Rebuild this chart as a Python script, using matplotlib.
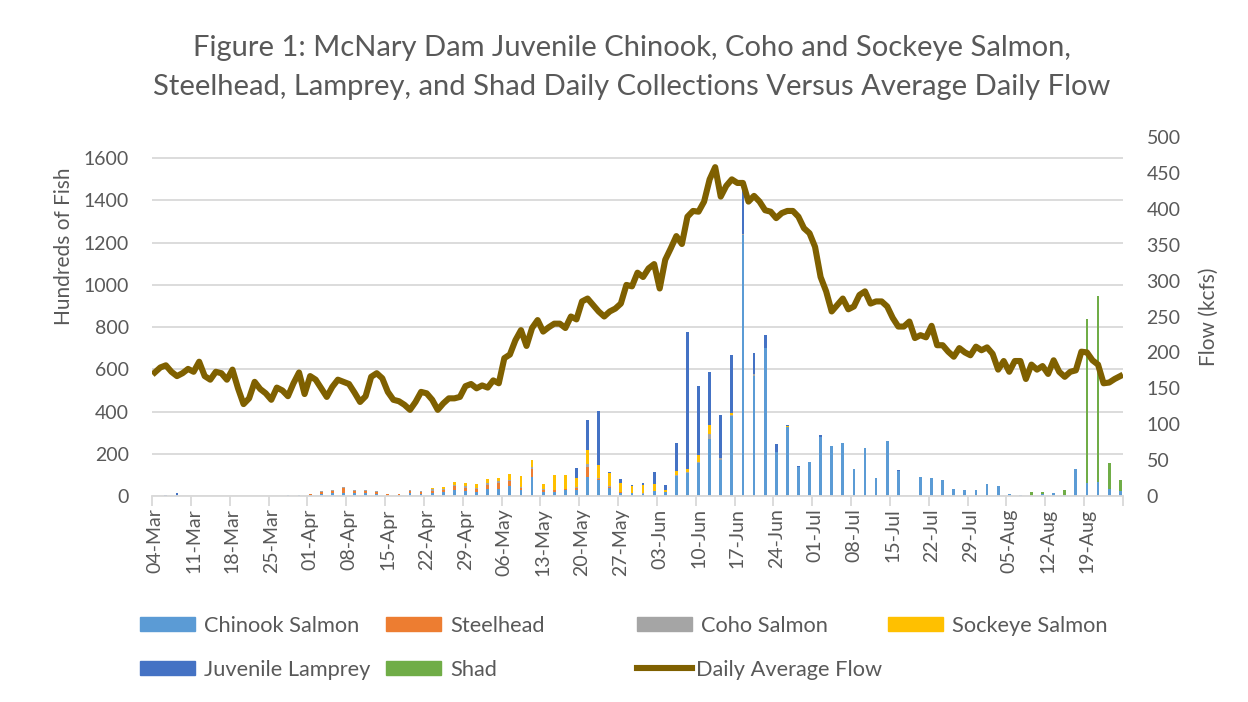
import numpy as np
import pandas as pd
import matplotlib
matplotlib.use('Agg')
import matplotlib.pyplot as plt
import matplotlib.patches as mpatches
from matplotlib.lines import Line2D

plt.rcParams['font.family'] = ['Lato', 'DejaVu Sans']

# Days 04-Mar .. 25-Aug (175 days); fish counted every other day
datas = pd.date_range('2019-03-04', periods=175, freq='D')
rotulos = [d.strftime('%d-%b') for d in datas]

# Daily average flow (kcfs)
vazao = [172, 179, 182, 173, 167, 171, 177, 173, 187, 167,
         162, 173, 171, 162, 176, 150, 128, 136, 159, 149,
         143, 134, 151, 147, 139, 157, 172, 142, 167, 162,
         150, 138, 152, 162, 159, 156, 144, 131, 139, 166,
         171, 164, 145, 134, 132, 127, 120, 131, 145, 143,
         134, 120, 129, 136, 136, 138, 153, 156, 150, 154,
         151, 161, 157, 192, 197, 217, 231, 209, 234, 245,
         229, 235, 240, 240, 234, 250, 246, 271, 275, 266,
         257, 250, 257, 261, 268, 294, 292, 311, 305, 317,
         323, 289, 329, 345, 362, 351, 389, 397, 396, 410,
         441, 458, 417, 432, 441, 436, 436, 410, 418, 410,
         398, 396, 387, 394, 397, 397, 389, 373, 366, 347,
         305, 285, 257, 266, 275, 260, 264, 280, 285, 268,
         271, 271, 264, 248, 236, 236, 243, 220, 224, 221,
         237, 210, 210, 201, 194, 206, 200, 196, 208, 203,
         207, 198, 176, 188, 173, 188, 188, 163, 183, 176,
         181, 170, 189, 173, 166, 173, 175, 201, 200, 189,
         183, 157, 158, 163, 167]

# Collections (hundreds of fish), every other day starting 04-Mar
chinook = [0, 1, 5, 1, 1, 1, 0, 0, 0, 0,
           0, 1, 3, 3, 4, 8, 12, 15, 15, 14,
           10, 2, 6, 12, 10, 14, 18, 30, 25, 20,
           35, 33, 45, 30, 90, 20, 20, 28, 28, 90,
           75, 40, 15, 12, 10, 22, 17, 95, 110, 155,
           270, 170, 380, 1235, 570, 700, 208, 325, 135, 163,
           278, 236, 249, 130, 225, 86, 262, 120, 0, 90,
           86, 75, 35, 27, 29, 59, 46, 8, 6, 2,
           8, 14, 5, 130, 60, 68, 32, 25]
steelhead = [0] * 10 + \
            [0, 0, 0, 0, 6, 12, 14, 22, 10, 10,
             10, 6, 4, 12, 10, 12, 10, 15, 15, 12,
             18, 30, 28, 8, 40, 8, 8, 5, 10, 45,
             5, 3, 2, 0, 0, 0, 0, 0, 0, 0] + [0] * 38
coho = [0, 0, 0, 0, 1, 0, 0, 0, 0, 0,
        0, 0, 0, 0, 0, 2, 4, 5, 5, 4,
        2, 0, 0, 4, 4, 6, 6, 8, 5, 5,
        8, 6, 5, 4, 5, 4, 2, 2, 5, 18,
        5, 2, 3, 2, 4, 4, 0, 5, 5, 8,
        25, 8, 5, 8, 10, 0, 0, 0, 0, 0] + [0] * 28
sockeye = [0] * 20 + \
          [0, 0, 0, 0, 0, 4, 7, 12, 15, 20,
           20, 17, 28, 52, 36, 24, 68, 65, 40, 65,
           60, 62, 40, 35, 38, 33, 12, 17, 13, 30,
           40, 3, 8, 0, 0, 0, 0, 8, 0, 0] + [0] * 28
lampreia = [0, 2, 8, 1, 0, 0, 0, 0, 0, 0,
            0, 1, 2, 2, 0, 0, 0, 0, 0, 0,
            0, 0, 0, 0, 0, 0, 0, 0, 0, 0,
            0, 0, 0, 0, 0, 0, 2, 0, 50, 140,
            257, 7, 22, 5, 8, 57, 25, 133, 647, 328,
            250, 204, 277, 227, 95, 63, 39, 5, 5, 0,
            9, 0, 0, 0, 0, 0, 0, 5, 0, 0] + [0] * 18
shad = [0] * 79 + [17, 11, 0, 25, 0, 780, 880, 122, 53]

series = [('Chinook Salmon', chinook, '#5B9BD5'),
          ('Steelhead', steelhead, '#ED7D31'),
          ('Coho Salmon', coho, '#A5A5A5'),
          ('Sockeye Salmon', sockeye, '#FFC000'),
          ('Juvenile Lamprey', lampreia, '#4472C4'),
          ('Shad', shad, '#70AD47')]

cinza = '#595959'
fig = plt.figure(figsize=(12.48, 7.02), dpi=100)
ax = fig.add_axes([152 / 1248, 1 - 496 / 702, 971 / 1248, 359 / 702])

x_dias = np.arange(len(vazao))
x_bar = x_dias[::2]
base = np.zeros(len(x_bar))
for nome, vals, cor in series:
    vals = np.array(vals, dtype=float)
    ax.bar(x_bar, vals, width=0.5, bottom=base, color=cor, linewidth=0)
    base += vals

ax.set_xlim(-0.5, len(vazao) - 0.5)
ax.set_ylim(0, 1700)
ax.set_yticks(np.arange(0, 1601, 200))
ax.yaxis.grid(True, color='#D9D9D9', linewidth=1.3)
ax.set_axisbelow(True)
for s in ['top', 'left', 'right']:
    ax.spines[s].set_visible(False)
ax.spines['bottom'].set_color('#D9D9D9')
ax.spines['bottom'].set_linewidth(1.3)

ax.set_xticks(x_dias[::7])
ax.set_xticklabels(rotulos[::7], rotation=90, fontsize=14, color=cinza)
ax.set_xticks(np.arange(-0.5, len(vazao), 7), minor=True)
ax.tick_params(axis='x', which='major', length=0, pad=9)
ax.tick_params(axis='x', which='minor', length=7, color='#D9D9D9', width=1.3)
ax.tick_params(axis='y', length=0, labelsize=14, labelcolor=cinza, pad=16.5)
ax.set_ylabel('Hundreds of Fish', fontsize=15, color=cinza)
ax.yaxis.set_label_coords(-0.080, 0.696)

ax2 = ax.twinx()
ax2.plot(x_dias, vazao, color='#7F6000', linewidth=4.4, solid_joinstyle='round')
ax2.set_ylim(0, 500)
ax2.set_yticks(np.arange(0, 501, 50))
for s in ax2.spines.values():
    s.set_visible(False)
ax2.tick_params(axis='y', length=0, labelsize=14, labelcolor=cinza, pad=17)
ax2.set_ylabel('Flow (kcfs)', fontsize=15, color=cinza, labelpad=13)

fig.text(0.506, 1 - 48 / 702, 'Figure 1: McNary Dam Juvenile Chinook, Coho and Sockeye Salmon,',
         ha='center', va='center', fontsize=21, color=cinza)
fig.text(0.506, 1 - 87 / 702, 'Steelhead, Lamprey, and Shad Daily Collections Versus Average Daily Flow',
         ha='center', va='center', fontsize=21, color=cinza)

# legend, Excel style grid
pos_leg = [(140, 626), (386, 626), (637, 626), (888, 626), (140, 670), (386, 670)]
for (nome, vals, cor), (px, py) in zip(series, pos_leg):
    fig.legend(handles=[mpatches.Patch(color=cor)], labels=[nome], loc='center left',
               bbox_to_anchor=(px / 1248, 1 - py / 702), frameon=False, borderpad=0,
               borderaxespad=0, handlelength=2.5, handleheight=0.62, handletextpad=0.45,
               fontsize=15.7, labelcolor=cinza)
fig.legend(handles=[Line2D([], [], color='#7F6000', linewidth=4.4)], labels=['Daily Average Flow'],
           loc='center left', bbox_to_anchor=(637 / 1248, 1 - 670 / 702), frameon=False,
           borderpad=0, borderaxespad=0, handlelength=2.5, handletextpad=0.2,
           fontsize=15.7, labelcolor=cinza)

fig.savefig('out.png', dpi=100)
